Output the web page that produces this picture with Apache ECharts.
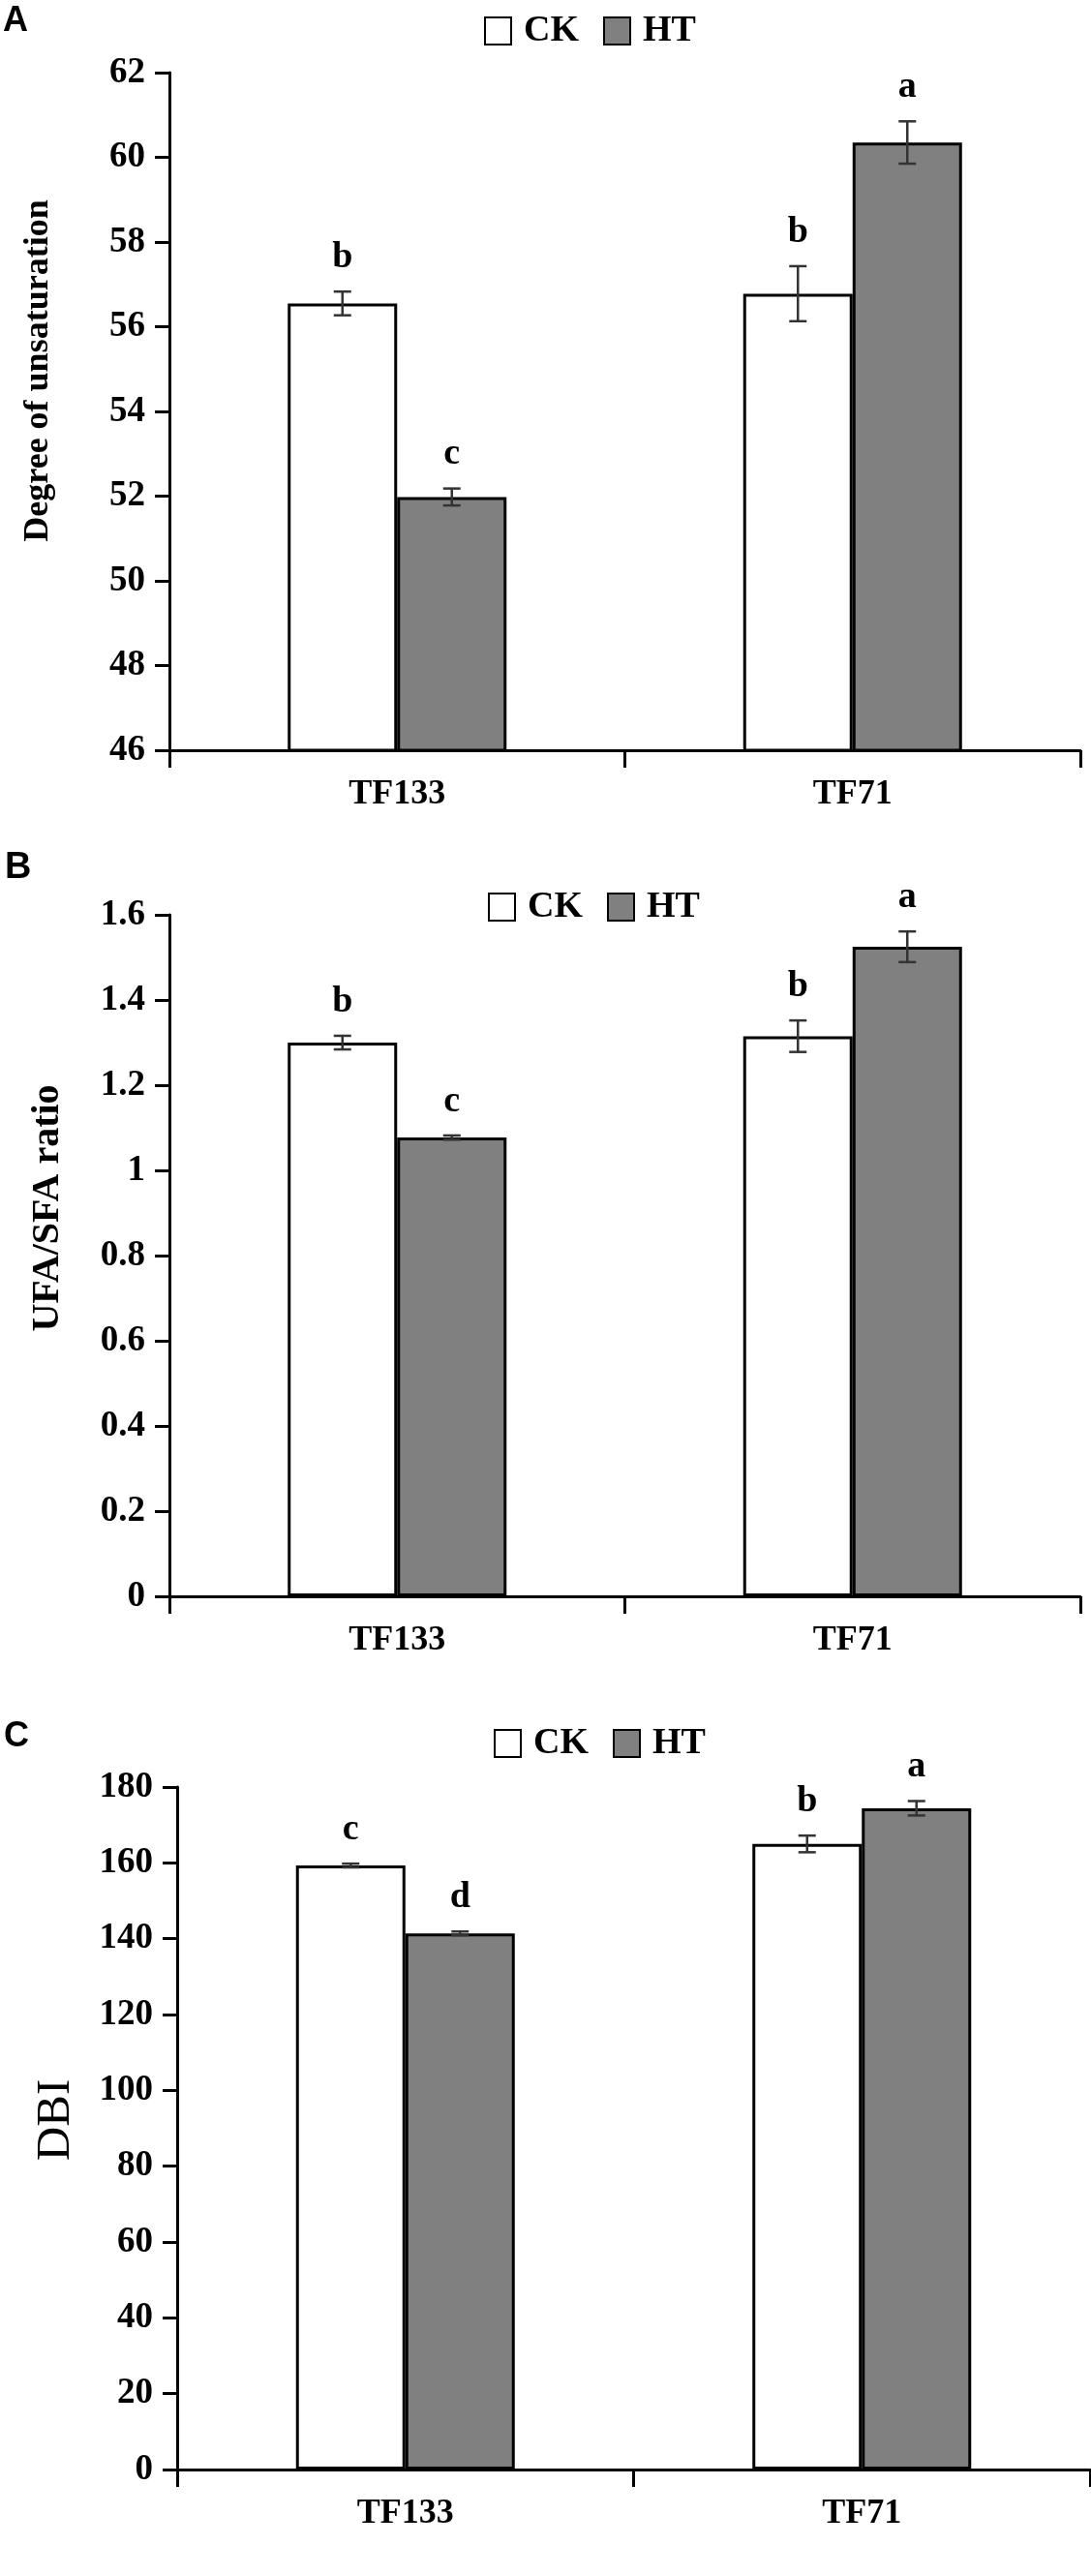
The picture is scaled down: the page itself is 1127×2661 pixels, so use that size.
<!DOCTYPE html>
<html>
<head>
    <meta charset="utf-8">
    <title>Fatty acid unsaturation</title>
    <script src="https://cdn.jsdelivr.net/npm/echarts@6.0.0/dist/echarts.min.js"></script>
    <style>
        html, body { margin: 0; padding: 0; background: #fff; }
    </style>
</head>
<body>
    <div id="chart" style="width: 1127px; height: 2661px;"></div>

    <script>
        // categories and treatments
        const groups = ['TF133', 'TF71'];
        const treatments = ['CK', 'HT'];

        // A: degree of unsaturation
        const ckA = [56.55, 56.78];
        const htA = [51.98, 60.35];
        const ckAErr = [0.28, 0.65];
        const htAErr = [0.2, 0.5];
        const ckALetters = ['b', 'b'];
        const htALetters = ['c', 'a'];

        // B: UFA/SFA ratio
        const ckB = [1.300, 1.315];
        const htB = [1.077, 1.525];
        const ckBErr = [0.016, 0.037];
        const htBErr = [0.005, 0.036];
        const ckBLetters = ['b', 'b'];
        const htBLetters = ['c', 'a'];

        // C: DBI
        const ckC = [159.3, 165.0];
        const htC = [141.4, 174.4];
        const ckCErr = [0.5, 2.2];
        const htCErr = [0.5, 1.9];
        const ckCLetters = ['c', 'b'];
        const htCLetters = ['d', 'a'];

        const SERIF = '"Liberation Serif", "Times New Roman", serif';
        const SANS = '"Liberation Sans", Arial, sans-serif';
        const BAR_W = 113;

        const panels = [
            { ck: ckA, ht: htA, ckErr: ckAErr, htErr: htAErr, ckL: ckALetters, htL: htALetters,
              min: 46, max: 62, interval: 2, grid: { left: 175, top: 75, width: 941, height: 700 },
              legend: { left: 500, top: 13 } },
            { ck: ckB, ht: htB, ckErr: ckBErr, htErr: htBErr, ckL: ckBLetters, htL: htBLetters,
              min: 0, max: 1.6, interval: 0.2, grid: { left: 175, top: 945, width: 941, height: 704 },
              legend: { left: 504, top: 918 } },
            { ck: ckC, ht: htC, ckErr: ckCErr, htErr: htCErr, ckL: ckCLetters, htL: htCLetters,
              min: 0, max: 180, interval: 20, grid: { left: 183, top: 1846, width: 943, height: 705 },
              legend: { left: 510, top: 1782 } }
        ];

        // error bar + significance letter
        function errRender(letters, side) {
            return function (params, api) {
                const i = api.value(0), v = api.value(1), e = api.value(2);
                const top = api.coord([i, v + e]);
                const bot = api.coord([i, v - e]);
                const x = top[0] + side * BAR_W / 2;
                const cap = 9;
                const ls = { stroke: '#333', lineWidth: 2.5 };
                return {
                    type: 'group',
                    children: [
                        { type: 'line', shape: { x1: x, y1: top[1], x2: x, y2: bot[1] }, style: ls },
                        { type: 'line', shape: { x1: x - cap, y1: top[1], x2: x + cap, y2: top[1] }, style: ls },
                        { type: 'line', shape: { x1: x - cap, y1: bot[1], x2: x + cap, y2: bot[1] }, style: ls },
                        { type: 'text', x: x, y: top[1] - 16,
                          style: { text: letters[params.dataIndex], fill: '#000',
                                   font: 'bold 38px ' + SERIF, align: 'center', verticalAlign: 'bottom' } }
                    ]
                };
            };
        }

        const grid = [], xAxis = [], yAxis = [], series = [], legend = [];
        panels.forEach((p, k) => {
            grid.push(p.grid);
            xAxis.push({
                type: 'category', gridIndex: k, data: groups, z: 10,
                axisLine: { lineStyle: { color: '#000', width: 3 } },
                axisTick: { show: true, length: 18, alignWithLabel: false, lineStyle: { color: '#000', width: 3 } },
                axisLabel: { color: '#000', fontFamily: SERIF, fontWeight: 'bold', fontSize: 36, margin: 28 }
            });
            yAxis.push({
                type: 'value', gridIndex: k, min: p.min, max: p.max, interval: p.interval,
                splitLine: { show: false },
                axisLine: { show: true, lineStyle: { color: '#000', width: 3 } },
                axisTick: { show: true, length: 15, lineStyle: { color: '#000', width: 3 } },
                axisLabel: { color: '#000', fontFamily: SERIF, fontWeight: 'bold', fontSize: 37, margin: 25 }
            });
            series.push({
                name: 'CK', type: 'bar', xAxisIndex: k, yAxisIndex: k, data: p.ck,
                barWidth: BAR_W, barGap: '0%',
                itemStyle: { color: '#fff', borderColor: '#000', borderWidth: 3 }
            });
            series.push({
                name: 'HT', type: 'bar', xAxisIndex: k, yAxisIndex: k, data: p.ht,
                barWidth: BAR_W, barGap: '0%',
                itemStyle: { color: '#808080', borderColor: '#000', borderWidth: 3 }
            });
            series.push({
                name: 'CK err', type: 'custom', xAxisIndex: k, yAxisIndex: k, z: 5,
                data: p.ck.map((v, i) => [i, v, p.ckErr[i]]),
                renderItem: errRender(p.ckL, -1)
            });
            series.push({
                name: 'HT err', type: 'custom', xAxisIndex: k, yAxisIndex: k, z: 5,
                data: p.ht.map((v, i) => [i, v, p.htErr[i]]),
                renderItem: errRender(p.htL, 1)
            });
            legend.push({
                data: treatments, left: p.legend.left, top: p.legend.top, padding: 0,
                icon: 'rect', itemWidth: 27, itemHeight: 28, itemGap: 25,
                textStyle: { color: '#000', fontFamily: SERIF, fontWeight: 'bold', fontSize: 38, padding: [0, 0, 0, 8] }
            });
        });

        const chart = echarts.init(document.getElementById('chart'));
        chart.setOption({
            animation: false,
            backgroundColor: '#fff',
            title: [
                { text: 'A', left: 3, top: 4, padding: 0, textStyle: { fontFamily: SANS, fontWeight: 'bold', fontSize: 36, color: '#000' } },
                { text: 'B', left: 5, top: 878, padding: 0, textStyle: { fontFamily: SANS, fontWeight: 'bold', fontSize: 38, color: '#000' } },
                { text: 'C', left: 4, top: 1776, padding: 0, textStyle: { fontFamily: SANS, fontWeight: 'bold', fontSize: 36, color: '#000' } }
            ],
            legend: legend,
            grid: grid,
            xAxis: xAxis,
            yAxis: yAxis,
            series: series,
            graphic: [
                { type: 'text', x: 40, y: 383, rotation: Math.PI / 2,
                  style: { text: 'Degree of unsaturation', font: 'bold 36px ' + SERIF, fill: '#000', align: 'center', verticalAlign: 'middle' } },
                { type: 'text', x: 50, y: 1248, rotation: Math.PI / 2,
                  style: { text: 'UFA/SFA ratio', font: 'bold 40px ' + SERIF, fill: '#000', align: 'center', verticalAlign: 'middle' } },
                { type: 'text', x: 58, y: 2190, rotation: Math.PI / 2,
                  style: { text: 'DBI', font: '49px ' + SERIF, fill: '#000', align: 'center', verticalAlign: 'middle' } }
            ]
        });
    </script>
</body>
</html>
